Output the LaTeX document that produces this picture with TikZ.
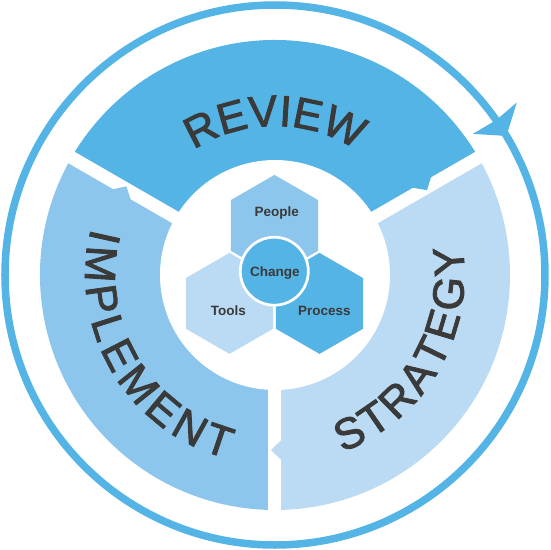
\documentclass[tikz,border=0pt]{standalone}
\usepackage{fontspec}
\setmainfont{Liberation Sans}
\newfontfamily\bigfont{Liberation Sans}[FakeBold=2]
\usetikzlibrary{decorations.text}
\definecolor{cA}{RGB}{84,180,229}
\definecolor{cB}{RGB}{140,198,237}
\definecolor{cC}{RGB}{186,219,243}
\definecolor{tgray}{RGB}{58,58,58}
\newcommand\bigtxtfont{\bigfont\fontsize{43.5}{50}\selectfont}
\tikzset{
  gapline/.style={white,line width=13},
  lbl/.style={font=\bfseries\fontsize{13.5}{15}\selectfont,text=tgray,anchor=base,inner sep=0pt},
  arclabel/.style={decorate,decoration={text along path,text color=tgray,#1}}
}
\begin{document}
\begin{tikzpicture}[x=1pt,y=1pt]
\useasboundingbox (-275,-275) rectangle (275,275);
% ring segments
\fill[cA] (0,0) -- (30:235) arc[start angle=30,end angle=150,radius=235] -- cycle;
\fill[cC] (0,0) -- (-90:235) arc[start angle=-90,end angle=30,radius=235] -- cycle;
\fill[cB] (0,0) -- (150:235) arc[start angle=150,end angle=270,radius=235] -- cycle;
% gaps
\foreach \a in {30,150,270} \draw[gapline] (0,0) -- (\a:245);
% small teeth
\begin{scope}[rotate=30]
  \fill[cA] (162,7.5) -- (174,-2.5) -- (185,7.5) -- cycle;
\end{scope}
\begin{scope}[rotate=150]
  \fill[cB] (162,7.5) -- (173,-2.5) -- (184,7.5) -- cycle;
\end{scope}
\begin{scope}[rotate=270]
  \fill[cC] (164,7.5) -- (175,-4) -- (186,7.5) -- cycle;
\end{scope}
% inner white disk
\fill[white] (0,0) circle (115);
% hexagons
\fill[cB,shift={(-0.5,49.6)}] (90:50.5) -- (30:50.5) -- (-30:50.5) -- (-90:50.5) -- (-150:50.5) -- (150:50.5) -- cycle;
\fill[cC,shift={(-45.5,-28.4)}] (90:50.5) -- (30:50.5) -- (-30:50.5) -- (-90:50.5) -- (-150:50.5) -- (150:50.5) -- cycle;
\fill[cA,shift={(44.5,-28.4)}] (90:50.5) -- (30:50.5) -- (-30:50.5) -- (-90:50.5) -- (-150:50.5) -- (150:50.5) -- cycle;
% change circle
\fill[cA,draw=white,line width=2.7] (-0.7,3.8) circle (34);
% labels
\node[lbl] (people) at (1.7,58.3) {People};
\node[lbl] (change) at (0,-1) {Change};
\node[lbl] (tools) at (-46.7,-40.7) {Tools};
\node[lbl] (process) at (49.3,-40.7) {Process};
% big arc labels
\path[arclabel={text={|\bigtxtfont|REVIEW},text align=center}]
  (150:149) arc[start angle=150,end angle=30,radius=149];
\path[arclabel={text={|\bigtxtfont|IMPLEMENT},text align={fit to path}}]
  (165.7:189.5) arc[start angle=165.7,end angle=255.3,radius=189.5];
\path[arclabel={text={|\bigtxtfont|STRATEGY},text align={fit to path}}]
  (290.8:189.5) arc[start angle=290.8,end angle=368.8,radius=189.5];
% outer ring with arrowhead
\draw[cA,line width=7.5] (0,0) circle (270);
\fill[cA] (35.5:243) -- (31:270) -- (35.5:297) -- (35:270) -- cycle;
\end{tikzpicture}
\end{document}
